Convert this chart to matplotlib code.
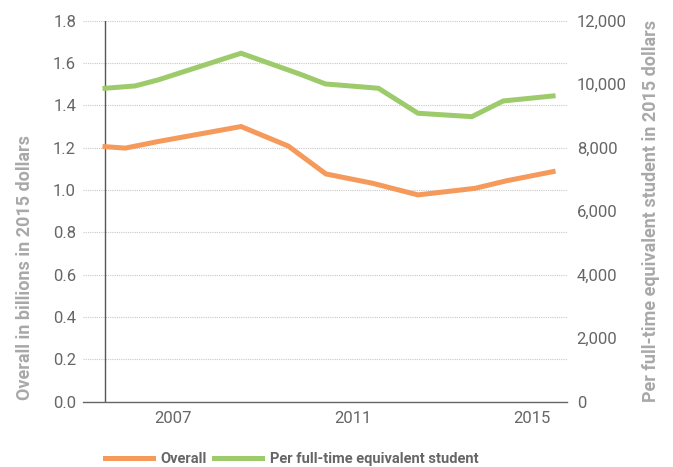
import matplotlib
matplotlib.use("Agg")
import matplotlib.pyplot as plt
from matplotlib.lines import Line2D

# Data (x as decimal years)
overall_x = [2005.49, 2005.94, 2006.67, 2008.52, 2009.57, 2010.41, 2011.45, 2012.46, 2013.73, 2014.44, 2015.47]
overall = [1.205, 1.198, 1.229, 1.300, 1.208, 1.076, 1.032, 0.977, 1.008, 1.044, 1.087]
per_fte_x = [2005.49, 2006.16, 2006.67, 2008.52, 2009.84, 2010.40, 2011.58, 2012.46, 2013.66, 2014.36, 2015.47]
per_fte = [9872, 9945, 10134, 10975, 10313, 10008, 9872, 9085, 8978, 9472, 9630]
xticks = [2007, 2011, 2015]
left_ticks = [0.0, 0.2, 0.4, 0.6, 0.8, 1.0, 1.2, 1.4, 1.6, 1.8]
right_ticks = [0, 2000, 4000, 6000, 8000, 10000, 12000]

ORANGE = "#f59a5b"
GREEN = "#9dcb6b"
TICK = "#666666"
TITLE = "#a8a8a8"

plt.rcParams['font.family'] = ['Roboto', 'DejaVu Sans']

fig = plt.figure(figsize=(6.73, 4.67), dpi=100)
ax = fig.add_axes([83/673, 1-401.7/467, (567-83)/673, (401.7-20.7)/467])
ax2 = ax.twinx()

ax.set_xlim(2005.0, 2015.78)
ax.set_ylim(0, 1.8)
ax2.set_ylim(0, 12000)

ax.plot(overall_x, overall, color=ORANGE, lw=3.6, solid_joinstyle='miter', zorder=3)
ax2.plot(per_fte_x, per_fte, color=GREEN, lw=3.6, solid_joinstyle='miter', zorder=3)
ax.axvline(overall_x[0], color="#555555", lw=1.0, zorder=2)

for a in (ax, ax2):
    for s in a.spines.values():
        s.set_visible(False)
ax.spines['bottom'].set_visible(True)
ax.spines['bottom'].set_color("#666666")
ax.spines['bottom'].set_linewidth(1.0)

ax.set_yticks(left_ticks)
ax.set_yticklabels([f"{v:.1f}" for v in left_ticks])
ax.grid(axis='y', color="#c8c8c8", linestyle=(0, (1, 1)), lw=0.8)
ax.set_axisbelow(True)
ax.set_xticks(xticks)
ax.set_xticklabels([str(x) for x in xticks])
ax.tick_params(axis='both', length=0, colors=TICK, labelsize=12)
ax.tick_params(axis='y', pad=5)
ax.tick_params(axis='x', pad=7)

ax2.set_yticks(right_ticks)
ax2.set_yticklabels([f"{v:,}" for v in right_ticks])
ax2.tick_params(axis='y', length=0, colors=TICK, labelsize=12, pad=7)

ax.set_ylabel("Overall in billions in 2015 dollars", color=TITLE, fontsize=13, fontweight='bold')
ax.yaxis.set_label_coords(-0.102, 0.352)
ax2.set_ylabel("Per full-time equivalent student in 2015 dollars", color=TITLE, fontsize=13, fontweight='bold', rotation=90)
ax2.yaxis.set_label_coords(1.155, 0.5)

handles = [Line2D([], [], color=ORANGE, lw=3.6), Line2D([], [], color=GREEN, lw=3.6)]
leg = fig.legend(handles, ["Overall", "Per full-time equivalent student"], loc='center left',
                 bbox_to_anchor=(105/673, 1-459/467), ncol=2, frameon=False, borderpad=0,
                 borderaxespad=0, handlelength=3.3, handletextpad=0.5, columnspacing=0.5,
                 prop={'family': ['Roboto', 'DejaVu Sans'], 'weight': 'bold', 'size': 10.5})
for t in leg.get_texts():
    t.set_color(TICK)

fig.savefig("out.png", dpi=100)
